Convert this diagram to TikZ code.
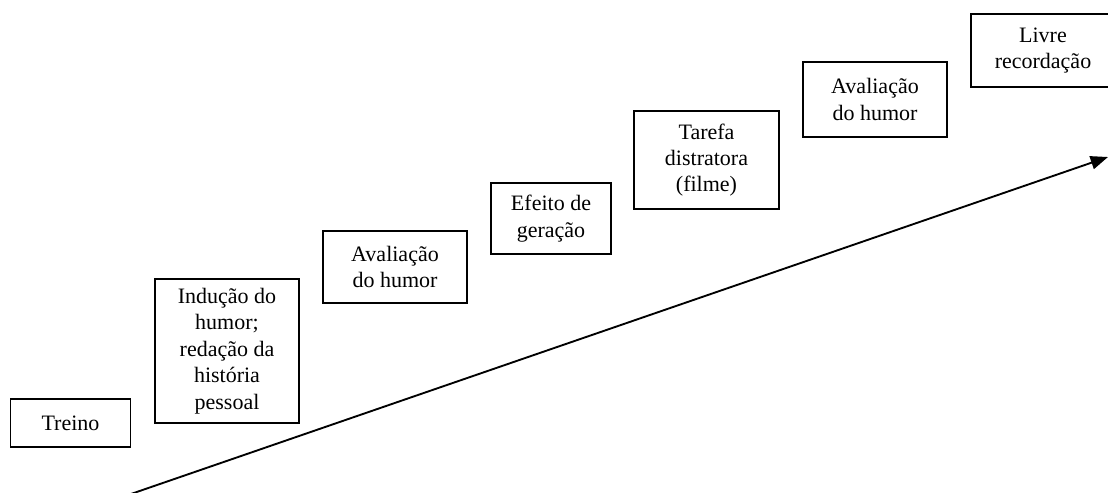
\documentclass[tikz,border=0pt]{standalone}
\usepackage{fontspec}
\setmainfont{Liberation Serif}
\usetikzlibrary{arrows.meta}
\begin{document}
\begin{tikzpicture}[x=0.75pt,y=-0.75pt,
  stepbox/.style={draw=black,line width=1.3pt,fill=white,align=center,inner sep=0pt,
    font=\fontsize{16.5}{19.8}\selectfont},
  timeline/.style={line width=1.4pt,-{Triangle[length=13pt,width=10pt]}}]
\clip (0,0) rectangle (1108,493);
\fill[white] (0,0) rectangle (1108,493);
\node[stepbox,minimum width=90pt,minimum height=36pt] (treino) at (70.5,423) {Treino};
\node[stepbox,minimum width=108pt,minimum height=108pt] (inducao) at (227,351) {Indução do\\humor;\\redação da\\história\\pessoal};
\node[stepbox,minimum width=108pt,minimum height=54pt] (aval1) at (395,267) {Avaliação\\do humor};
\node[stepbox,minimum width=90pt,minimum height=53pt] (efeito) at (551,218.5) {Efeito de\\geração};
\node[stepbox,minimum width=108.75pt,minimum height=73.5pt] (tarefa) at (706.5,160) {Tarefa\\distratora\\(filme)};
\node[stepbox,minimum width=108pt,minimum height=56.25pt] (aval2) at (875,99.5) {Avaliação\\do humor};
\node[stepbox,minimum width=108pt,minimum height=54.75pt] (livre) at (1043,50.5) {Livre\\recordação};
\coordinate (start) at (128,495);
\coordinate (end) at (1108,157);
\draw[timeline] (start) -- (end);
\end{tikzpicture}
\end{document}
